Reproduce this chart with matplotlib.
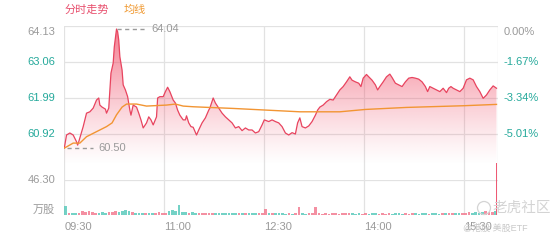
import numpy as np
import matplotlib
matplotlib.use("Agg")
import matplotlib.pyplot as plt
from matplotlib.patches import Ellipse

plt.rcParams['font.family'] = ['Liberation Sans', 'Noto Sans CJK SC', 'DejaVu Sans']

# minutes after 09:30 and price
price_t = [0, 2, 5, 8, 11, 12, 13, 17, 20, 23, 26, 29, 31, 32, 34, 37, 38, 40, 42, 44,
           45, 47, 48, 49, 50, 52, 53, 55, 57, 59, 60, 62, 65, 67, 69, 71, 74, 76, 78, 80,
           83, 84, 86, 89, 91, 93, 95, 98, 100, 102, 104, 107, 109, 110, 112, 114, 116, 119, 121, 124,
           127, 130, 131, 134, 136, 139, 142, 145, 148, 151, 154, 157, 160, 163, 166, 169, 172, 175, 178, 180,
           184, 187, 190, 193, 196, 199, 202, 205, 208, 210, 212, 214, 217, 220, 223, 226, 228, 230, 233, 236,
           239, 242, 245, 248, 251, 254, 257, 259, 262, 265, 267, 269, 272, 274, 277, 280, 282, 284, 287, 290,
           293, 295, 298, 301, 304, 307, 310, 313, 316, 319, 322, 325, 327, 329, 332, 335, 338, 341, 344, 346,
           348, 350, 353, 356, 359, 362, 365, 368, 371, 374, 377, 380, 383, 386, 389]
price_v = [60.50, 60.89, 60.95, 60.89, 60.69, 60.59, 60.69, 61.14, 61.54, 61.58, 61.69, 61.93, 61.99, 61.78, 61.72, 61.66, 61.54, 61.69, 62.73, 63.03,
           63.51, 64.04, 63.96, 63.71, 63.22, 62.82, 62.38, 62.23, 62.03, 61.63, 61.48, 61.78, 61.72, 61.54, 61.34, 61.10, 61.25, 61.43, 61.34, 61.19,
           61.43, 61.99, 62.03, 62.03, 62.18, 62.31, 62.18, 61.93, 61.84, 61.63, 61.48, 61.34, 61.34, 61.46, 61.25, 61.14, 61.12, 60.89, 61.04, 61.25,
           61.40, 61.63, 61.69, 61.99, 61.84, 61.69, 61.54, 61.43, 61.34, 61.25, 61.10, 61.14, 61.02, 61.10, 61.04, 61.04, 60.95, 60.99, 61.19, 61.34,
           61.29, 61.34, 61.29, 61.25, 61.14, 60.95, 60.89, 60.96, 60.92, 61.25, 61.40, 61.14, 61.10, 61.16, 61.29, 61.48, 61.63, 61.72, 61.78, 61.88,
           61.95, 61.93, 62.08, 62.23, 62.33, 62.47, 62.62, 62.52, 62.47, 62.43, 62.33, 62.58, 62.69, 62.62, 62.52, 62.38, 62.23, 62.33, 62.47, 62.62,
           62.70, 62.60, 62.43, 62.38, 62.33, 62.47, 62.58, 62.60, 62.58, 62.55, 62.47, 62.33, 62.18, 62.33, 62.28, 62.23, 62.18, 62.28, 62.15, 62.28,
           62.33, 62.28, 62.23, 62.18, 62.28, 62.53, 62.58, 62.53, 62.33, 62.18, 61.98, 62.08, 62.23, 62.35, 62.28]

avg_t = [0, 8, 14, 20, 29, 38, 43, 47, 52, 56, 65, 74, 92, 100, 107, 116, 130, 152, 182, 212, 248, 271, 308, 359, 389]
avg_v = [60.50, 60.65, 60.65, 60.84, 60.99, 61.14, 61.25, 61.49, 61.72, 61.81, 61.81, 61.75, 61.78, 61.81, 61.75,
         61.73, 61.71, 61.68, 61.63, 61.58, 61.58, 61.65, 61.71, 61.76, 61.80]

# volume in 3-minute buckets (万股), u = up bar, d = down bar
vol = [12, 3, 3, 2.5, 3,
       5, 4, 5, 4,
       3, 3, 3.5, 3,
       4.5, 4.5, 5, 4.5,
       5.5, 6.5, 5.5, 4,
       3, 2.5, 3, 2, 3, 2.5,
       3, 3.5, 3, 3,
       5.5, 6.5, 5.5,
       13,
       4, 4, 3, 3.5, 3, 3,
       2.5, 2, 2, 2.5, 2, 2, 3, 2, 2, 2, 2.5, 2, 2, 2, 2, 2.5, 2, 2, 2,
       8,
       3, 2.5, 3, 2,
       2, 1.5, 2, 1.5, 2,
       10,
       2, 1.5, 2, 2,
       10,
       2, 1.5, 2, 1.5, 2, 2, 1.5, 2, 3, 3,
       2, 1.5, 2, 1.5, 2, 1.5, 2, 2, 1.5, 2,
       1.5, 2, 1.5, 2, 2, 1.5, 2, 1.5, 2, 2,
       1.5, 2, 2, 1.5, 2, 2, 1.5, 2, 2, 2.5,
       2, 2, 2.5, 3,
       3, 4, 3, 4, 3, 4, 5, 4, 4,
       5]
vol_dir = ("duddu" "uuuu" "uddd" "uuud" "dddu" "dddudd" "uuuu" "ddd" "d" "dduddu"
           "uuuudddddddududdduu" "u" "dudd" "ddudu" "u" "dduu" "u"
           "uuuuuuuuuu" "ddduuddduu" "uudddduuud" "dddudddudu" "uddu" "uudddduuu" "d")
close_vol = 68.5

prev_close = 64.13
price_ticks = [64.13, 63.06, 61.99, 60.92]
pct_labels = ['0.00%', '-1.67%', '-3.34%', '-5.01%']
time_ticks = [0, 90, 180, 270, 360]
time_labels = ['09:30', '11:00', '12:30', '14:00', '15:30']
vol_label = 46.30
hi_price, lo_price = 64.04, 60.50

RED = '#e8445f'
ORANGE = '#f29533'
TEAL = '#25a99b'
GRAY = '#9a9a9a'
GRID = '#e2e2e2'
W, H = 560, 240

fig = plt.figure(figsize=(5.6, 2.4), dpi=100)
fig.patch.set_facecolor('white')
x0, x1 = 64.3, 497.6
ax = fig.add_axes([x0 / W, 1 - 180 / H, (x1 - x0) / W, 154 / H])
axv = fig.add_axes([x0 / W, 1 - 215 / H, (x1 - x0) / W, 35 / H])

for a in (ax, axv):
    a.set_xlim(0, 390)
    a.set_xticks([])
    a.set_yticks([])
    for s in a.spines.values():
        s.set_visible(False)
    for t in time_ticks[1:] + [0, 390]:
        a.axvline(t, color=GRID, lw=0.9, zorder=0)

ax.set_ylim(59.553, 64.13)
for p in price_ticks:
    ax.axhline(p, color=GRID, lw=0.9, zorder=0)

# gradient fill under the price line
ytop, ybot = 64.13, 60.0
n = 256
rgb = np.array(matplotlib.colors.to_rgb('#f04c66'))
img = np.zeros((n, 2, 4))
img[:, :, :3] = rgb
alpha = np.linspace(0.78, 0.0, n) ** 1.2
img[:, :, 3] = alpha[:, None]
im = ax.imshow(img, extent=(0, 390, ybot, ytop), aspect='auto', origin='upper', zorder=1,
               interpolation='bilinear')
poly = ax.fill_between(price_t, price_v, 59.553, color='none', lw=0)
im.set_clip_path(poly.get_paths()[0], transform=ax.transData)

ax.plot(price_t, price_v, color=RED, lw=0.9, zorder=3)
ax.plot(avg_t, avg_v, color=ORANGE, lw=1.0, zorder=4)

# high / low markers
hi_t = price_t[int(np.argmax(price_v))]
lo_t = price_t[int(np.argmin(price_v))]
ax.plot([hi_t, hi_t + 26], [hi_price, hi_price], color=GRAY, lw=1.0, ls=(0, (3, 2.5)), zorder=5)
ax.text(hi_t + 31, hi_price, f'{hi_price:.2f}', color=GRAY, fontsize=8, va='center', ha='left')
ax.plot([lo_t + 2, lo_t + 26], [lo_price, lo_price], color=GRAY, lw=1.0, ls=(0, (3, 2.5)), zorder=5)
ax.text(lo_t + 31, lo_price, f'{lo_price:.2f}', color=GRAY, fontsize=8, va='center', ha='left')

# axis labels
tr_l = matplotlib.transforms.blended_transform_factory(ax.transAxes, ax.transData)
for i, (p, lab) in enumerate(zip(price_ticks, pct_labels)):
    c = GRAY if p == prev_close else TEAL
    va = 'top' if i == 0 else 'center'
    yy = p - 0.04 if i == 0 else p
    ax.text(-0.021, yy, f'{p:.2f}', color=c, fontsize=8, ha='right', va=va, transform=tr_l)
    ax.text(1.013, yy, lab, color=c, fontsize=8, ha='left', va=va, transform=tr_l)

# volume bars
axv.set_ylim(0, vol_label)
axv.axhline(vol_label, color=GRID, lw=0.9, zorder=0)
vt = np.arange(len(vol)) * 3
cols = ['#f37d92' if d == 'u' else '#5ccabc' for d in vol_dir]
axv.bar(vt, vol, width=2.4, align='edge', color=cols, lw=0, alpha=0.85, zorder=2)
axv.bar([389], [close_vol], width=0.9, align='edge', color='#ee5a74', lw=0, zorder=3, clip_on=False)

tr_v = matplotlib.transforms.blended_transform_factory(axv.transAxes, axv.transData)
axv.text(-0.021, vol_label, f'{vol_label:.2f}', color=GRAY, fontsize=8, ha='right', va='center', transform=tr_v)
axv.text(-0.021, 0.15, '万股', color=GRAY, fontsize=8, ha='right', va='bottom', transform=tr_v)

tr_x = matplotlib.transforms.blended_transform_factory(axv.transData, axv.transAxes)
for t, lab in zip(time_ticks, time_labels):
    axv.text(t, -0.34, lab, color=GRAY, fontsize=8, ha='left', va='center', transform=tr_x)

# title legend
fig.text(65 / W, 1 - 10 / H, '分时走势', color='#e8506e', fontsize=8, va='center', ha='left')
fig.text(124 / W, 1 - 10 / H, '均线', color='#f09a33', fontsize=8, va='center', ha='left')

# watermark
fig.text(493 / W, 1 - 208 / H, '老虎社区', color='#d4d4d4', fontsize=10.5, va='center', ha='left', zorder=10)
fig.add_artist(Ellipse((484 / W, 1 - 208 / H), 13 / W, 13 / H, fill=False, ec='#d4d4d4', lw=0.9))
fig.text(463 / W, 1 - 228 / H, '@港股 美股ETF', color='#c9c9c9', fontsize=6.5, va='center', ha='left')

fig.savefig('out.png', dpi=100, facecolor='white')
